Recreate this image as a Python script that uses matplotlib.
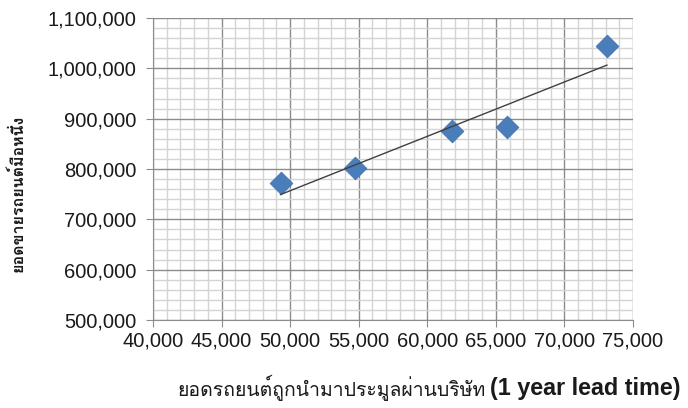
import numpy as np
import matplotlib
matplotlib.use("Agg")
import matplotlib.pyplot as plt
from matplotlib import font_manager
from matplotlib.ticker import MultipleLocator, FuncFormatter
from matplotlib.ft2font import FT2Font

# data
auction_cars = [49300, 54700, 61800, 65800, 73100]
new_car_sales = [772000, 801800, 874600, 883300, 1043500]

x_label_th = "ยอดรถยนต์ถูกนำมาประมูลผ่านบริษัท"
x_label_en = "(1 year lead time)"
y_label = "ยอดขายรถยนต์มือหนึ่ง"


def thai_family():
    # look for any installed font that has Thai glyphs
    for f in font_manager.fontManager.ttflist:
        try:
            cmap = FT2Font(f.fname).get_charmap()
        except Exception:
            continue
        if 0x0E22 in cmap and 0x0E2D in cmap:
            return f.name
    return None


thai = thai_family()
fams = ["Liberation Sans", "DejaVu Sans"]
if thai:
    fams = ["Liberation Sans", thai, "DejaVu Sans"]
plt.rcParams["font.family"] = fams

fig = plt.figure(figsize=(6.88, 4.08), dpi=100)
ax = fig.add_axes([153 / 688, 1 - 320 / 408, 480 / 688, 302 / 408])

ax.set_xlim(40000, 75000)
ax.set_ylim(500000, 1100000)
ax.xaxis.set_major_locator(MultipleLocator(5000))
ax.xaxis.set_minor_locator(MultipleLocator(1000))
ax.yaxis.set_major_locator(MultipleLocator(100000))
ax.yaxis.set_minor_locator(MultipleLocator(20000))
fmt = FuncFormatter(lambda v, p: f"{int(v):,}")
ax.xaxis.set_major_formatter(fmt)
ax.yaxis.set_major_formatter(fmt)

ax.grid(which="minor", color="#d4d4d4", linewidth=1.0)
ax.grid(which="major", color="#8c8c8c", linewidth=1.0)
ax.set_axisbelow(True)

for s in ["top", "right"]:
    ax.spines[s].set_visible(False)
for s in ["left", "bottom"]:
    ax.spines[s].set_color("#8c8c8c")

ax.tick_params(which="major", length=5, color="#8c8c8c", labelsize=14.5,
               labelcolor="#1a1a1a")
ax.tick_params(axis="y", pad=7)
ax.tick_params(axis="x", pad=3)
ax.tick_params(which="minor", length=0)

ax.scatter(auction_cars, new_car_sales, marker="D", s=135, color="#4a7ebb",
           edgecolor="#3f6fa8", linewidth=0.5, zorder=3)

# linear trend line
k, b = np.polyfit(auction_cars, new_car_sales, 1)
xt = np.array([min(auction_cars), max(auction_cars)])
ax.plot(xt, k * xt + b, color="#404040", linewidth=1.0, zorder=4)

fig.text(486 / 688, 1 - 388 / 408, x_label_th, ha="right", va="center",
         fontsize=14, color="#1a1a1a")
fig.text(490 / 688, 1 - 388 / 408, x_label_en, ha="left", va="center",
         fontsize=16.8, fontweight="bold", color="#1a1a1a")
fig.text(17 / 688, 1 - 193 / 408, y_label, ha="center", va="center",
         rotation=90, fontsize=11.5, fontweight="bold", color="#1a1a1a")

fig.savefig("out.png", dpi=100)
